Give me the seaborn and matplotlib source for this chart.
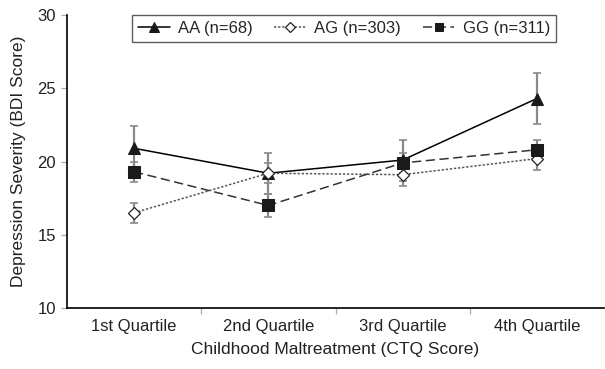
import matplotlib
matplotlib.use("Agg")
import matplotlib.pyplot as plt
import seaborn as sns
import pandas as pd
import numpy as np

categories = ["1st Quartile", "2nd Quartile", "3rd Quartile", "4th Quartile"]
aa_mean = [20.9, 19.2, 20.1, 24.3]
aa_err = [1.5, 1.4, 1.4, 1.75]
ag_mean = [16.5, 19.2, 19.1, 20.2]
ag_err = [0.68, 0.7, 0.8, 0.8]
gg_mean = [19.3, 17.0, 19.9, 20.8]
gg_err = [0.7, 0.77, 0.7, 0.68]
labels = ["AA (n=68)", "AG (n=303)", "GG (n=311)"]

sns.set_style("white")
plt.rcParams["font.family"] = ["Liberation Sans", "DejaVu Sans"]

fig = plt.figure(figsize=(6.05, 3.69), dpi=100)
ax = fig.add_axes([67/605, 61/369, 537/605, 293/369])

series = [
    (labels[0], aa_mean, aa_err, dict(color="black", linestyle="-", marker="^", markersize=9,
                                      markerfacecolor="#1a1a1a", markeredgecolor="#1a1a1a", linewidth=1.1)),
    (labels[1], ag_mean, ag_err, dict(color="#555555", linestyle=(0, (1.5, 1.2)), marker="D", markersize=6.5,
                                      markerfacecolor="white", markeredgecolor="#222222", markeredgewidth=0.9, linewidth=1.1)),
    (labels[2], gg_mean, gg_err, dict(color="#333333", linestyle=(0, (6, 3)), marker="s", markersize=8.5,
                                      markerfacecolor="#1a1a1a", markeredgecolor="#1a1a1a", linewidth=1.1)),
]

xpos = np.arange(len(categories))
for name, mean, err, st in series:
    df = pd.DataFrame({"x": categories, "y": mean})
    ax.errorbar(xpos, mean, yerr=err, fmt="none", ecolor="#8a8a8a", elinewidth=1.6,
                capsize=3, capthick=1.2, zorder=2)
    sns.lineplot(data=df, x="x", y="y", ax=ax, label=name, sort=False, zorder=3, **st)

ax.set_xlim(-0.5, 3.5)
ax.set_ylim(10, 30)
ax.set_yticks([10, 15, 20, 25, 30])
ax.set_xticks(xpos)
ax.set_xticklabels(categories)
ax.set_xticks([0.5, 1.5, 2.5], minor=True)
ax.tick_params(axis="x", which="major", bottom=False, length=0, labelsize=12, pad=8, labelcolor="#222222")
ax.tick_params(axis="x", which="minor", bottom=True, length=4, color="#aaaaaa", width=0.9, direction="out")
ax.tick_params(axis="y", which="major", left=True, length=4, color="#aaaaaa", width=0.9, direction="out",
               labelsize=12, pad=4, labelcolor="#222222")

for s in ["top", "right"]:
    ax.spines[s].set_visible(False)
for s in ["left", "bottom"]:
    ax.spines[s].set_color("black")
    ax.spines[s].set_linewidth(1.2)

ax.set_xlabel("Childhood Maltreatment (CTQ Score)", fontsize=12.5, color="#222222", labelpad=6)
ax.set_ylabel("Depression Severity (BDI Score)", fontsize=12.5, color="#222222", labelpad=8)

if ax.legend_:
    ax.legend_.remove()
handles, lbls = ax.get_legend_handles_labels()
leg = fig.legend(handles, lbls, loc="upper center", bbox_to_anchor=(344/605, 1 - 7/369), ncol=3,
                 fontsize=12, frameon=True, fancybox=False, handlelength=1.9, handletextpad=0.5,
                 columnspacing=1.3, borderpad=0.35, markerscale=0.75)
leg.get_frame().set_edgecolor("#333333")
leg.get_frame().set_linewidth(1.0)

fig.savefig("out.png", dpi=100)
